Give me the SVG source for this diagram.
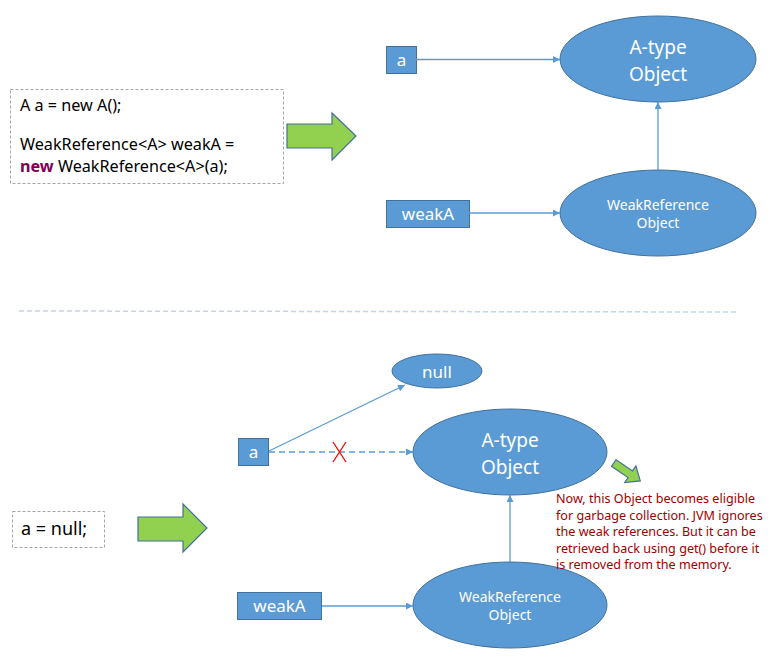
<svg xmlns="http://www.w3.org/2000/svg" width="784" height="661" viewBox="0 0 784 661">
<defs>
<style>
.code{fill:#fff;stroke:#A6A6A6;stroke-width:1;stroke-dasharray:3 2}
.ct{font-family:"Noto Sans","Open Sans",sans-serif;font-size:16.2px;fill:#000}
.kw{fill:#7F0055;font-weight:bold}
.box{fill:#5B9BD5;stroke:#41719C;stroke-width:1}
.ell{fill:#5B9BD5;stroke:#41719C;stroke-width:1}
.wt{font-family:"Noto Sans","Open Sans",sans-serif;fill:#fff;text-anchor:middle}
.big{font-size:19px}
.med{font-size:17px}
.sm{font-size:14px}
.conn{stroke:#5B9BD5;stroke-width:1.3;fill:none}
.green{fill:#92D050;stroke:#41719C;stroke-width:1.2}
.note{font-family:"Noto Sans","Open Sans",sans-serif;font-size:12.6px;fill:#A00000}
</style>
<marker id="ah" viewBox="0 0 10 10" refX="10" refY="5" markerWidth="8" markerHeight="7" markerUnits="userSpaceOnUse" orient="auto">
<path d="M0,0 L10,5 L0,10 z" fill="#5B9BD5"/>
</marker>
</defs>
<rect width="784" height="661" fill="#fff"/>

<!-- top section -->
<g id="code-top">
<rect class="code" x="10.5" y="89.5" width="273" height="94"/>
<text class="ct" x="20" y="111">A a = new A();</text>
<text class="ct" x="20" y="150">WeakReference&lt;A&gt; weakA =</text>
<text class="ct" x="20" y="172"><tspan class="kw">new</tspan> WeakReference&lt;A&gt;(a);</text>
</g>
<g id="arrow-top">
<path class="green" d="M287,124 H332 V113 L356,136 L332,160 V148 H287 Z"/>
</g>
<g id="a-top">
<rect class="box" x="386.5" y="46.5" width="30" height="27"/>
<text class="wt med" x="401.5" y="66">a</text>
</g>
<g id="atype-top">
<ellipse class="ell" cx="658" cy="59" rx="98" ry="43"/>
<text class="wt big" x="658" y="54">A-type</text>
<text class="wt big" x="658" y="81">Object</text>
</g>
<g id="weakA-top">
<rect class="box" x="386.5" y="200.5" width="83" height="27"/>
<text class="wt med" x="428" y="220">weakA</text>
</g>
<g id="weakref-top">
<ellipse class="ell" cx="658" cy="213" rx="98" ry="43"/>
<text class="wt sm" x="658" y="210">WeakReference</text>
<text class="wt sm" x="658" y="228">Object</text>
</g>

<g id="separator">
<line x1="19" y1="311" x2="737" y2="312" stroke="#BDD7EE" stroke-width="1.5" stroke-dasharray="5 3"/>
</g>

<!-- bottom section -->
<g id="code-bottom">
<rect class="code" x="12.5" y="511.5" width="92" height="36"/>
<text class="ct" x="21" y="535" style="font-size:18px">a = null;</text>
</g>
<g id="arrow-bottom">
<path class="green" d="M138,517 H183 V504 L207,528 L183,552 V541 H138 Z"/>
</g>
<g id="null">
<ellipse class="ell" cx="437" cy="371" rx="45" ry="17"/>
<text class="wt med" x="437" y="378">null</text>
</g>
<g id="a-bottom">
<rect class="box" x="238.5" y="438.5" width="30" height="27"/>
<text class="wt med" x="253.5" y="458">a</text>
</g>
<g id="atype-bottom">
<ellipse class="ell" cx="510" cy="452" rx="97" ry="43"/>
<text class="wt big" x="510" y="447">A-type</text>
<text class="wt big" x="510" y="474">Object</text>
</g>
<g id="weakA-bottom">
<rect class="box" x="237.5" y="592.5" width="84" height="27"/>
<text class="wt med" x="279.5" y="612">weakA</text>
</g>
<g id="weakref-bottom">
<ellipse class="ell" cx="510" cy="605" rx="97" ry="43"/>
<text class="wt sm" x="510" y="602">WeakReference</text>
<text class="wt sm" x="510" y="620">Object</text>
</g>
<g id="small-arrow">
<path class="green" transform="translate(627,472) rotate(34)" d="M-16,-4 H4 V-10 L16,0 L4,10 V4 H-16 Z"/>
</g>
<g id="note">
<text class="note" x="556" y="503">Now, this Object becomes eligible</text>
<text class="note" x="556" y="519.5">for garbage collection. JVM ignores</text>
<text class="note" x="556" y="536">the weak references. But it can be</text>
<text class="note" x="556" y="552.5">retrieved back using get() before it</text>
<text class="note" x="556" y="569">is removed from the memory.</text>
</g>

<g id="connectors">
<line class="conn" x1="416" y1="59.5" x2="560" y2="59.5" marker-end="url(#ah)"/>
<line class="conn" x1="469" y1="213" x2="560" y2="213" marker-end="url(#ah)"/>
<line class="conn" x1="658" y1="170" x2="658" y2="102" marker-end="url(#ah)"/>
<line class="conn" x1="269" y1="451" x2="405" y2="385" marker-end="url(#ah)"/>
<line class="conn" x1="269" y1="452" x2="413" y2="452" stroke-dasharray="6 4" marker-end="url(#ah)"/>
<line class="conn" x1="322" y1="606" x2="413" y2="606" marker-end="url(#ah)"/>
<line class="conn" x1="510" y1="562" x2="510" y2="495" marker-end="url(#ah)"/>
<path d="M333,442 L346,462 M346,442 L333,462" stroke="#FF0000" stroke-width="1.3" fill="none"/>
</g>
</svg>
